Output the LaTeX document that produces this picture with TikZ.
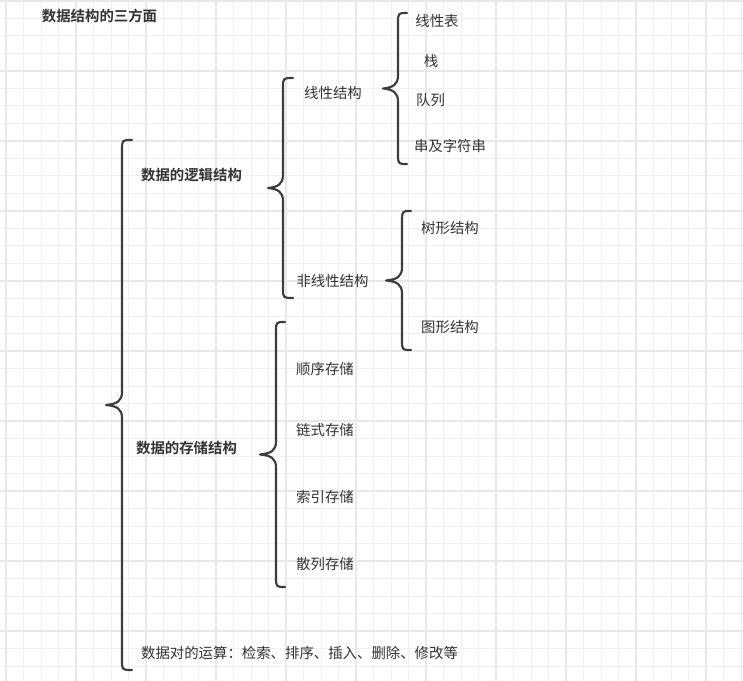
\documentclass[tikz,border=0pt]{standalone}
\usepackage{fontspec}
\newfontfamily\cjk{Noto Sans CJK SC}[BoldFont={Noto Sans CJK SC Bold}]
\definecolor{gridminor}{HTML}{F0F0F0}
\definecolor{gridmajor}{HTML}{E8E8E8}
\definecolor{ink}{HTML}{333333}
\definecolor{bracecol}{HTML}{3C3C3C}
% draws a curly bracket: top y, bottom y, stem x, end x, tip x
\newcommand\curlybrace[5]{%
  \pgfmathsetmacro\bmid{(#1+#2)/2}%
  \draw[bracket] (#4,#1) .. controls (#3,#1) .. (#3,#1+10)
    -- (#3,\bmid-13) .. controls (#3,\bmid-4) and (#3-5,\bmid-1) .. (#5,\bmid)
    .. controls (#3-5,\bmid+1) and (#3,\bmid+4) .. (#3,\bmid+13)
    -- (#3,#2-10) .. controls (#3,#2) .. (#4,#2);}
\begin{document}
\begin{tikzpicture}[x=0.75pt,y=-0.75pt,
  lbl/.style={font=\cjk\fontsize{10.8}{13}\selectfont, text=ink, inner sep=0pt},
  head/.style={lbl, font=\cjk\bfseries\fontsize{10.8}{13}\selectfont},
  bracket/.style={draw=bracecol, line width=1.6pt, line cap=round, line join=round},
  minor/.style={draw=gridminor, line width=0.75pt},
  major/.style={draw=gridmajor, line width=1.3pt}]
\useasboundingbox (0,0) rectangle (743,681);
\fill[white] (0,0) rectangle (743,681);
% background grid
\foreach \k in {0,...,42}{\draw[minor] (6+17.5*\k,0) -- (6+17.5*\k,681);}
\foreach \k in {0,...,38}{\draw[minor] (0,1+17.5*\k) -- (743,1+17.5*\k);}
\foreach \k in {0,...,10}{\draw[major] (6+70*\k,0) -- (6+70*\k,681);}
\foreach \k in {0,...,9}{\draw[major] (0,1+70*\k) -- (743,1+70*\k);}
% brackets
\curlybrace{140}{670}{122}{132}{106}
\curlybrace{78}{298}{283}{293}{268}
\curlybrace{13}{164}{398}{407}{383}
\curlybrace{211}{350}{402}{411}{386}
\curlybrace{322}{587}{276}{285}{260}
% labels
\node[head] (title) at (99.5,16) {数据结构的三方面};
\node[head] (logic) at (191.5,175) {数据的逻辑结构};
\node[head] (store) at (186.5,448) {数据的存储结构};
\node[lbl] (linear) at (333,93) {线性结构};
\node[lbl] (nonlinear) at (332.5,281) {非线性结构};
\node[lbl] (list) at (437,21) {线性表};
\node[lbl] (stack) at (431,61) {栈};
\node[lbl] (queue) at (430.5,100) {队列};
\node[lbl] (string) at (450,146) {串及字符串};
\node[lbl] (tree) at (450,228) {树形结构};
\node[lbl] (graph) at (450,327) {图形结构};
\node[lbl] (seq) at (325,369) {顺序存储};
\node[lbl] (linked) at (325,430) {链式存储};
\node[lbl] (index) at (325,497) {索引存储};
\node[lbl] (hash) at (325,564) {散列存储};
\node[lbl] (ops) at (299.5,653) {数据对的运算：检索、排序、插入、删除、修改等};
\end{tikzpicture}
\end{document}
